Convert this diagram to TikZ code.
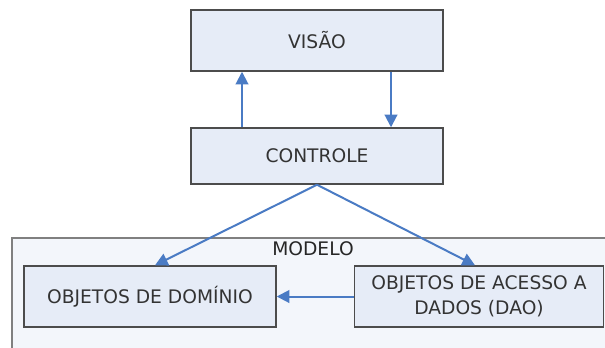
\documentclass[tikz,border=0pt]{standalone}
\usepackage{fontspec}
\setmainfont{DejaVu Sans}
\usetikzlibrary{arrows.meta,positioning}
\definecolor{boxfill}{HTML}{E6ECF7}
\definecolor{modelfill}{HTML}{F3F6FB}
\definecolor{linkblue}{HTML}{4A7BC4}
\tikzset{
    layer/.style={draw=black!70, line width=1.1pt, fill=boxfill, align=center,
        font=\fontsize{14}{19}\selectfont, text=black!80, inner sep=0pt},
    link/.style={draw=linkblue, line width=1.5pt, -{Triangle[width=9.5pt,length=9.5pt]}}
}
\begin{document}
\begin{tikzpicture}[x={0.75pt}, y={-0.75pt}]
            \useasboundingbox (0,0) rectangle (605,347);
            \clip (0,0) rectangle (605,347);
            \fill[white] (0,0) rectangle (605,347);
            \draw[fill=modelfill, draw=black!50, line width=1pt] (12,238) rectangle (615,360);
            \node[font=\fontsize{14}{19}\selectfont, text=black!85] (modelo) at (313,249) {MODELO};
            \node[layer, minimum width=189pt, minimum height=45.75pt] (visao) at (317,40.5) {VISÃO};
            \node[layer, minimum width=189pt, minimum height=42pt] (controle) at (317,156) {CONTROLE};
            \node[layer, minimum width=189pt, minimum height=45.75pt] (dominio) at (150,296.5) {OBJETOS DE DOMÍNIO};
            \node[layer, minimum width=187pt, minimum height=45.75pt] (dao) at (479,296.5) {OBJETOS DE ACESSO A\\DADOS (DAO)};
            \draw[link] (controle.north -| 242,0) -- (visao.south -| 242,0);
            \draw[link] (visao.south -| 391,0) -- (controle.north -| 391,0);
            \draw[link] (controle.south) -- ([xshift=3.75pt]dominio.north);
            \draw[link] (controle.south) -- ([xshift=-3pt]dao.north);
            \draw[link] (dao.west) -- (dominio.east);
        \end{tikzpicture}
\end{document}
